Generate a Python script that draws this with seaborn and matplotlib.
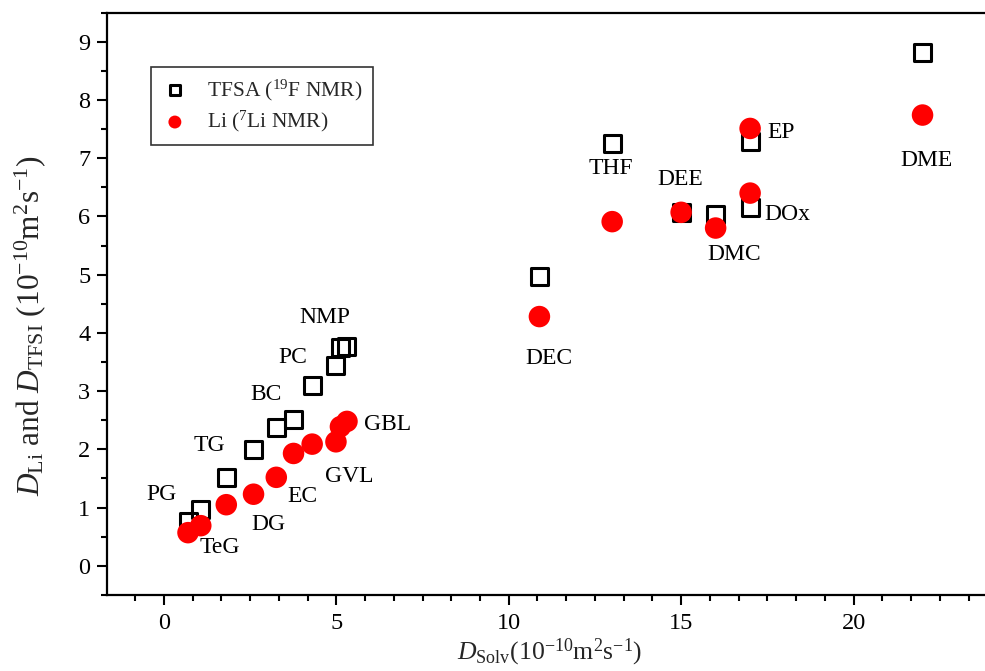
import matplotlib
matplotlib.use("Agg")
import matplotlib.pyplot as plt
from matplotlib.ticker import MultipleLocator, AutoMinorLocator
import seaborn as sns
import pandas as pd

solvents = ["TeG", "PG", "DG", "TG", "EC", "BC", "GVL", "PC", "GBL", "NMP",
            "DEC", "THF", "DEE", "DMC", "EP", "DOx", "DME"]
d_solv = [0.70, 1.07, 1.81, 2.60, 3.26, 3.76, 4.30, 4.99, 5.12, 5.31,
          10.89, 13.0, 15.0, 16.0, 17.0, 17.0, 22.0]
d_tfsi = [0.77, 0.97, 1.52, 1.99, 2.37, 2.52, 3.10, 3.44, 3.75, 3.77,
          4.97, 7.26, 6.06, 6.03, 7.29, 6.16, 8.81]
d_li = [0.57, 0.69, 1.05, 1.23, 1.52, 1.93, 2.09, 2.13, 2.39, 2.48,
        4.28, 5.91, 6.07, 5.80, 7.51, 6.40, 7.74]
# label offsets (points) relative to the anchoring point
label_offsets = {
    "TeG": (23, -11), "PG": (-28, 10.5), "DG": (30, -14), "TG": (-32, 3),
    "EC": (19, -13.5), "BC": (-20, 18), "GVL": (27, -23), "PC": (-31, 5.5),
    "GBL": (34, 1.5), "NMP": (-16, 21), "DEC": (7, -30), "THF": (-1, -18.5),
    "DEE": (-1, 23.5), "DMC": (13, -18.7), "EP": (22.5, -3), "DOx": (27, -5),
    "DME": (3, -32.6),
}
label_anchor = {  # which series the label is attached to
    "TeG": "li", "PG": "tfsi", "DG": "li", "TG": "tfsi", "EC": "li",
    "BC": "tfsi", "GVL": "li", "PC": "tfsi", "GBL": "li", "NMP": "tfsi",
    "DEC": "li", "THF": "tfsi", "DEE": "li", "DMC": "li", "EP": "li",
    "DOx": "tfsi", "DME": "li",
}

sns.set_theme(style="ticks")
plt.rcParams["font.family"] = ["Liberation Serif", "DejaVu Serif"]
plt.rcParams["mathtext.fontset"] = "custom"
plt.rcParams["mathtext.rm"] = "Liberation Serif"
plt.rcParams["mathtext.it"] = "Liberation Serif:italic"
plt.rcParams["mathtext.bf"] = "Liberation Serif:bold"

df = pd.DataFrame({"solvent": solvents, "d_solv": d_solv,
                   "d_tfsi": d_tfsi, "d_li": d_li})

fig = plt.figure(figsize=(9.85, 6.71), dpi=100)
ax = fig.add_axes([0.1086, 0.1133, 0.898, 0.868])

sns.scatterplot(data=df, x="d_solv", y="d_tfsi", ax=ax, marker="s", s=150,
                facecolor="none", edgecolor="black", linewidth=2.2,
                label="TFSA ($^{19}$F NMR)", zorder=3)
sns.scatterplot(data=df, x="d_solv", y="d_li", ax=ax, marker="o", s=240,
                color="#ff0000", edgecolor="none", linewidth=0,
                label="Li ($^{7}$Li NMR)", zorder=4)

for name, xs, yt, yl in zip(solvents, d_solv, d_tfsi, d_li):
    yy = yt if label_anchor[name] == "tfsi" else yl
    ax.annotate(name, (xs, yy), xytext=label_offsets[name],
                textcoords="offset points", ha="center", va="center",
                fontsize=17, color="black", zorder=5)

ax.set_xlim(-1.65, 24.0)
ax.set_ylim(-0.5, 9.5)
ax.xaxis.set_major_locator(MultipleLocator(5))
ax.xaxis.set_minor_locator(AutoMinorLocator(6))
ax.yaxis.set_major_locator(MultipleLocator(1))
ax.yaxis.set_minor_locator(AutoMinorLocator(2))
ax.tick_params(axis="both", which="major", direction="out", length=7,
               width=1.5, labelsize=17.5, colors="black")
ax.tick_params(axis="x", which="major", pad=6)
ax.tick_params(axis="y", which="major", pad=5)
ax.tick_params(axis="both", which="minor", direction="out", length=4.5,
               width=1.5, colors="black")
ax.tick_params(top=False, right=False, which="both")
for side in ["left", "bottom", "top"]:
    ax.spines[side].set_linewidth(1.6)
    ax.spines[side].set_color("black")
ax.spines["right"].set_visible(False)

ax.set_xlabel(r"$D_{\rm Solv}$(10$^{-10}$m$^{2}$s$^{-1}$)", fontsize=18.5)
ax.xaxis.set_label_coords(0.5, -0.098)
ax.xaxis.label.set_va("center")
ax.set_ylabel(r"$D_{\rm Li}$ and $D_{\rm TFSI}$ (10$^{-10}$m$^{2}$s$^{-1}$)",
              fontsize=22.5)
ax.yaxis.set_label_coords(-0.087, 0.462)
ax.yaxis.label.set_va("center")

leg = ax.legend(loc="upper left", bbox_to_anchor=(0.05, 0.907), frameon=True,
                fancybox=False, edgecolor="black", fontsize=15.5,
                markerscale=0.6, borderpad=0.5, handlelength=1.2,
                handletextpad=0.9, labelspacing=0.3, borderaxespad=0)
leg.get_frame().set_linewidth(1.2)

fig.savefig("out.png", dpi=100)
